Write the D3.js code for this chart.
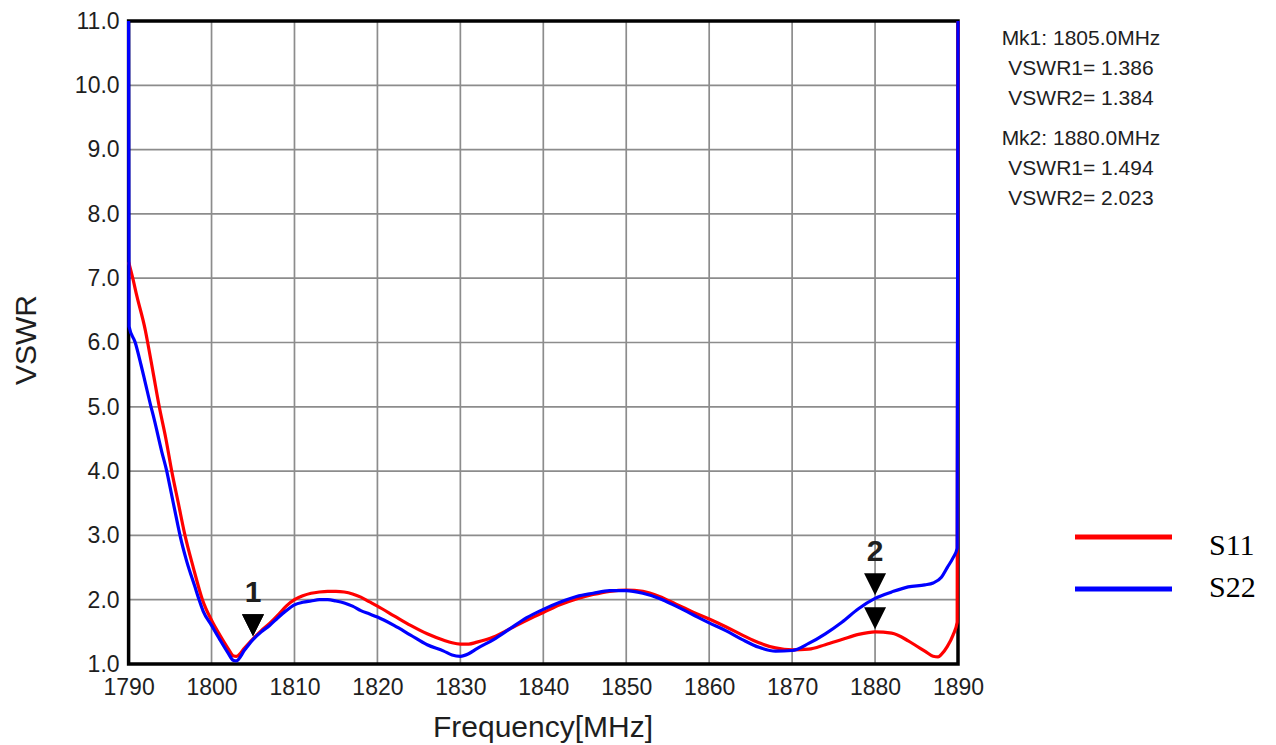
<!DOCTYPE html>
<html>
<head>
<meta charset="utf-8">
<script src="https://cdn.jsdelivr.net/npm/d3@7"></script>
<style>
  body { margin: 0; background: #fff; }
  svg { display: block; }
</style>
</head>
<body>
<script>
// S11 (red) trace
var s11Freq = [1790, 1790.5, 1791, 1792, 1792.3, 1793, 1793.7, 1794.5, 1795.2, 1796, 1796.8, 1797.8, 1798.9,
  1800, 1801, 1802, 1802.6, 1803, 1804, 1805, 1806, 1807, 1808, 1809, 1810, 1811, 1812, 1813, 1814, 1815,
  1816, 1817, 1818, 1819, 1820, 1822, 1824, 1826, 1828, 1829, 1830, 1831, 1832, 1834, 1836, 1838, 1840,
  1842, 1844, 1846, 1848, 1850, 1852, 1854, 1856, 1858, 1860, 1862, 1864, 1866, 1868, 1870, 1872, 1874,
  1876, 1878, 1880, 1882, 1884, 1885, 1886, 1887, 1887.6, 1888, 1888.7, 1889.4, 1889.9, 1890];
var s11Vswr = [7.25, 7.0, 6.72, 6.2, 6.0, 5.5, 5.0, 4.5, 4.0, 3.5, 3.0, 2.5, 2.0,
  1.68, 1.45, 1.24, 1.13, 1.12, 1.25, 1.39, 1.52, 1.63, 1.76, 1.9, 2.0, 2.06, 2.1, 2.12, 2.13, 2.13,
  2.12, 2.09, 2.04, 1.97, 1.9, 1.75, 1.6, 1.47, 1.37, 1.33, 1.31, 1.31, 1.34, 1.42, 1.55, 1.68, 1.8,
  1.92, 2.01, 2.08, 2.13, 2.15, 2.13, 2.05, 1.93, 1.81, 1.7, 1.58, 1.45, 1.33, 1.25, 1.22, 1.23, 1.3,
  1.38, 1.46, 1.5, 1.48, 1.36, 1.28, 1.2, 1.12, 1.11, 1.15, 1.27, 1.45, 1.65, 11.0];

// S22 (blue) trace
var s22Freq = [1790, 1790.05, 1790.8, 1791.5, 1792, 1792.7, 1793, 1794, 1794.6, 1795, 1796, 1796.2, 1797,
  1798, 1798.5, 1799, 1800, 1801, 1802, 1802.6, 1803, 1804, 1805, 1806, 1807, 1808, 1809, 1810, 1811,
  1812, 1813, 1814, 1815, 1816, 1817, 1818, 1819, 1820, 1822, 1824, 1826, 1828, 1829, 1830, 1831, 1832,
  1834, 1836, 1838, 1840, 1842, 1844, 1846, 1848, 1850, 1852, 1854, 1856, 1858, 1860, 1862, 1864, 1866,
  1868, 1870, 1872, 1874, 1876, 1878, 1880, 1882, 1884, 1886, 1887, 1888, 1888.7, 1889.4, 1889.9, 1890];
var s22Vswr = [11.0, 6.25, 6.0, 5.65, 5.38, 5.0, 4.85, 4.3, 4.0, 3.75, 3.12, 3.0, 2.6,
  2.2, 2.0, 1.82, 1.6, 1.38, 1.17, 1.06, 1.05, 1.22, 1.38, 1.5, 1.6, 1.72, 1.83, 1.92, 1.96,
  1.98, 2.0, 2.0, 1.98, 1.95, 1.9, 1.83, 1.78, 1.73, 1.6, 1.45, 1.3, 1.2, 1.14, 1.12, 1.16, 1.24,
  1.38, 1.55, 1.72, 1.85, 1.96, 2.05, 2.1, 2.14, 2.14, 2.1, 2.02, 1.9, 1.77, 1.64, 1.52, 1.38, 1.26,
  1.2, 1.21, 1.32, 1.47, 1.65, 1.86, 2.02, 2.12, 2.2, 2.23, 2.26, 2.35, 2.5, 2.65, 2.8, 11.0];

var xTicks = [1790, 1800, 1810, 1820, 1830, 1840, 1850, 1860, 1870, 1880, 1890];
var yTicks = [1, 2, 3, 4, 5, 6, 7, 8, 9, 10, 11];

// markers
var markerNames = ["1", "2"];
var markerFreq = [1805.0, 1880.0];
var markerS11 = [1.386, 1.494];
var markerS22 = [1.384, 2.023];

var seriesNames = ["S11", "S22"];
var seriesColors = ["#ff0000", "#0000ff"];

var width = 1276, height = 745;
var plotLeft = 128.6, plotRight = 958, plotTop = 21, plotBottom = 664;
var textColor = "#1e1e1e";

var svg = d3.select("body")
  .append("svg")
  .attr("width", width)
  .attr("height", height);

var x = d3.scaleLinear().domain([1790, 1890]).range([plotLeft, plotRight]);
var y = d3.scaleLinear().domain([1, 11]).range([plotBottom, plotTop]);

// grid
svg.append("g")
  .selectAll("line")
  .data(xTicks)
  .enter()
  .append("line")
  .attr("x1", function (d) { return x(d); })
  .attr("x2", function (d) { return x(d); })
  .attr("y1", plotTop)
  .attr("y2", plotBottom)
  .attr("stroke", "#8c8c8c")
  .attr("stroke-width", 1.7);

svg.append("g")
  .selectAll("line")
  .data(yTicks)
  .enter()
  .append("line")
  .attr("x1", plotLeft)
  .attr("x2", plotRight)
  .attr("y1", function (d) { return y(d); })
  .attr("y2", function (d) { return y(d); })
  .attr("stroke", "#8c8c8c")
  .attr("stroke-width", 1.7);

// axes (labels only, frame drawn separately)
var xAxis = svg.append("g")
  .attr("transform", "translate(0," + plotBottom + ")")
  .call(d3.axisBottom(x).tickValues(xTicks).tickSize(0).tickPadding(15).tickFormat(d3.format("d")));
var yAxis = svg.append("g")
  .attr("transform", "translate(" + plotLeft + ",0)")
  .call(d3.axisLeft(y).tickValues(yTicks).tickSize(0).tickPadding(9).tickFormat(d3.format(".1f")));

[xAxis, yAxis].forEach(function (ax) {
  ax.select(".domain").remove();
  ax.selectAll("text")
    .attr("font-family", "'Liberation Sans', Arial, sans-serif")
    .attr("font-size", 23)
    .attr("fill", textColor);
});

svg.append("rect")
  .attr("x", plotLeft)
  .attr("y", plotTop)
  .attr("width", plotRight - plotLeft)
  .attr("height", plotBottom - plotTop)
  .attr("fill", "none")
  .attr("stroke", "#000")
  .attr("stroke-width", 3.5);

// traces
var traces = [
  { freq: s11Freq, vswr: s11Vswr },
  { freq: s22Freq, vswr: s22Vswr }
];

var line = d3.line()
  .x(function (d) { return x(d[0]); })
  .y(function (d) { return y(d[1]); })
  .curve(d3.curveMonotoneX);

traces.forEach(function (t, i) {
  svg.append("path")
    .datum(d3.zip(t.freq, t.vswr))
    .attr("d", line)
    .attr("fill", "none")
    .attr("stroke", seriesColors[i])
    .attr("stroke-width", 3.2)
    .attr("stroke-linejoin", "round");
});

// marker triangles
function tri(cx, tipY) {
  return "M" + (cx - 11) + "," + (tipY - 22) + "L" + (cx + 11) + "," + (tipY - 22) + "L" + cx + "," + tipY + "Z";
}

markerFreq.forEach(function (f, i) {
  var cx = x(f);
  var vals = [markerS11[i], markerS22[i]];
  vals.forEach(function (v) {
    svg.append("path")
      .attr("d", tri(cx, y(v) - 3))
      .attr("fill", "#000");
  });
  var topTip = y(d3.max(vals)) - 3;
  svg.append("text")
    .attr("x", cx)
    .attr("y", topTip - 22 - 12)
    .attr("text-anchor", "middle")
    .attr("font-family", "'Liberation Sans', Arial, sans-serif")
    .attr("font-weight", "bold")
    .attr("font-size", 30)
    .attr("fill", textColor)
    .text(markerNames[i]);
});

// marker readout
var readout = [];
markerFreq.forEach(function (f, i) {
  readout.push("Mk" + markerNames[i] + ": " + f.toFixed(1) + "MHz");
  readout.push("VSWR1= " + markerS11[i].toFixed(3));
  readout.push("VSWR2= " + markerS22[i].toFixed(3));
});
var readoutY = [45, 75, 105, 145, 175, 205];

svg.append("g")
  .selectAll("text")
  .data(readout)
  .enter()
  .append("text")
  .attr("x", 1081)
  .attr("y", function (d, i) { return readoutY[i]; })
  .attr("text-anchor", "middle")
  .attr("font-family", "'Liberation Sans', Arial, sans-serif")
  .attr("font-size", 21)
  .attr("fill", textColor)
  .text(function (d) { return d; });

// axis titles
svg.append("text")
  .attr("x", 543)
  .attr("y", 737)
  .attr("text-anchor", "middle")
  .attr("font-family", "'Liberation Sans', Arial, sans-serif")
  .attr("font-size", 30)
  .attr("fill", textColor)
  .text("Frequency[MHz]");

svg.append("text")
  .attr("transform", "translate(36,340) rotate(-90)")
  .attr("text-anchor", "middle")
  .attr("font-family", "'Liberation Sans', Arial, sans-serif")
  .attr("font-size", 30)
  .attr("fill", textColor)
  .text("VSWR");

// legend
var legendY = [537, 589];
var legend = svg.append("g");
seriesNames.forEach(function (name, i) {
  legend.append("line")
    .attr("x1", 1075)
    .attr("x2", 1172)
    .attr("y1", legendY[i])
    .attr("y2", legendY[i])
    .attr("stroke", seriesColors[i])
    .attr("stroke-width", 5);
  legend.append("text")
    .attr("x", 1209)
    .attr("y", legendY[i] + (i === 0 ? 18 : 8))
    .attr("font-family", "'Liberation Serif', 'Times New Roman', serif")
    .attr("font-size", 30)
    .attr("fill", "#000")
    .text(name);
});
</script>
</body>
</html>
